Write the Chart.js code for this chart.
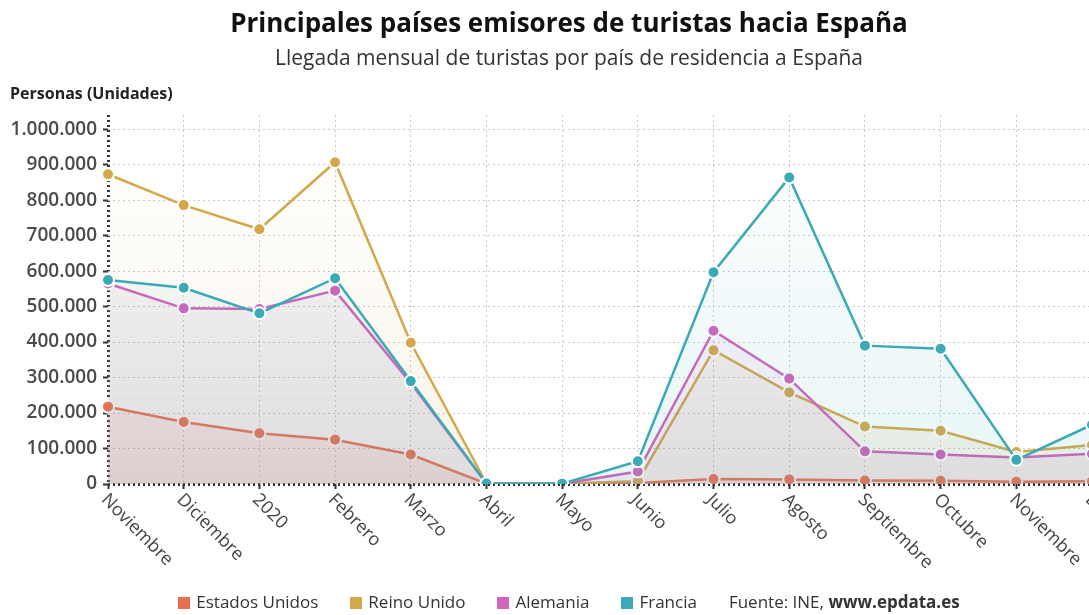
<!DOCTYPE html>
<html>
<head>
<meta charset="utf-8">
<script src="https://cdn.jsdelivr.net/npm/chart.js@4"></script>
<style>
  body { margin: 0; overflow: hidden; background: #fff; font-family: "Open Sans", sans-serif; }
  #wrap { position: relative; width: 1138px; height: 615px; }
  #chartBox { position: absolute; left: 0; top: 0; width: 1138px; height: 615px; }
  .title { position: absolute; left: 0; width: 1138px; text-align: center; top: 4px; font-size: 26px; font-weight: 700; color: #111; }
  .subtitle { position: absolute; left: 0; width: 1138px; text-align: center; top: 43px; font-size: 21px; color: #333; }
  .ytitle { position: absolute; left: 10px; top: 82px; font-size: 16px; font-weight: 700; color: #222; }
  .legend { position: absolute; left: 0; width: 1138px; top: 590px; text-align: center; font-size: 17px; color: #333; white-space: nowrap; }
  .legend span.item { margin: 0 16px; }
  .legend i { display: inline-block; width: 12px; height: 12px; margin-right: 6px; vertical-align: -1px; }
</style>
</head>
<body>
<div id="wrap">
  <div id="chartBox"><canvas id="grafico"></canvas></div>
  <div class="title">Principales países emisores de turistas hacia España</div>
  <div class="subtitle">Llegada mensual de turistas por país de residencia a España</div>
  <div class="ytitle">Personas (Unidades)</div>
  <div class="legend" id="legend"></div>
</div>
<script>
const meses = ['Noviembre', 'Diciembre', '2020', 'Febrero', 'Marzo', 'Abril', 'Mayo', 'Junio', 'Julio', 'Agosto', 'Septiembre', 'Octubre', 'Noviembre', 'Diciembre'];
const estadosUnidos = [218000, 175000, 143000, 125000, 83000, 1000, 500, 3000, 14000, 13000, 10000, 9000, 6000, 8000];
const reinoUnido = [873000, 786000, 718000, 907000, 398000, 1500, 800, 8000, 377000, 258000, 162000, 150000, 90000, 110000];
const alemania = [565000, 495000, 493000, 545000, 285000, 1200, 600, 35000, 432000, 297000, 92000, 83000, 75000, 85000];
const francia = [575000, 553000, 481000, 580000, 290000, 1500, 1000, 64000, 597000, 864000, 390000, 381000, 68000, 167000];
const yTicks = [0, 100000, 200000, 300000, 400000, 500000, 600000, 700000, 800000, 900000, 1000000];

const colores = {
    eeuu: [233, 110, 78],
    ru: [212, 168, 74],
    de: [208, 101, 185],
    fr: [58, 170, 182]
};

const rgb = (c, a) => `rgba(${c[0]},${c[1]},${c[2]},${a})`;
const fmt = v => String(v).replace(/\B(?=(\d{3})+(?!\d))/g, '.');

const gradiente = (c, aTop, aBottom) => (context) => {
    const { ctx, chartArea } = context.chart;
    if (!chartArea) return rgb(c, aBottom);
    const g = ctx.createLinearGradient(0, chartArea.top, 0, chartArea.bottom);
    g.addColorStop(0, rgb(c, aTop));
    g.addColorStop(1, rgb(c, aBottom));
    return g;
};

const serie = (label, data, c, order) => ({
    label: label,
    data: data,
    borderColor: rgb(c, 1),
    backgroundColor: gradiente(c, 0.0, 0.12),
    fill: 'origin',
    borderWidth: 2.5,
    pointRadius: 6,
    pointBorderWidth: 2,
    pointBackgroundColor: rgb(c, 1),
    pointBorderColor: '#fff',
    tension: 0,
    order: order
});

const xLabels = {
    id: 'xLabels',
    afterDraw(chart) {
        const xs = chart.scales.x;
        const ctx = chart.ctx;
        ctx.save();
        ctx.font = '18px "Open Sans"';
        ctx.fillStyle = '#444';
        ctx.textAlign = 'left';
        ctx.textBaseline = 'middle';
        meses.forEach((m, i) => {
            const x = xs.getPixelForValue(i);
            ctx.save();
            ctx.translate(x - 4, chart.chartArea.bottom + 13);
            ctx.rotate(Math.PI / 4);
            ctx.fillText(m, 0, 0);
            ctx.restore();
        });
        ctx.restore();
    }
};

new Chart(document.getElementById('grafico'), {
    type: 'line',
    data: {
        labels: meses,
        datasets: [
            serie('Estados Unidos', estadosUnidos, colores.eeuu, 4),
            serie('Reino Unido', reinoUnido, colores.ru, 3),
            serie('Alemania', alemania, colores.de, 2),
            serie('Francia', francia, colores.fr, 1)
        ]
    },
    options: {
        responsive: true,
        maintainAspectRatio: false,
        animation: false,
        layout: { padding: { top: 115, right: 46, left: 0, bottom: 0 } },
        plugins: {
            legend: { display: false },
            tooltip: { enabled: false }
        },
        scales: {
            x: {
                offset: false,
                ticks: { display: false },
                afterFit: s => { s.height = 131; },
                grid: {
                    color: ctx => ctx.index === 0 ? '#333' : '#c8c8c8',
                    lineWidth: ctx => ctx.index === 0 ? 3 : 1,
                    tickColor: '#333',
                    tickLength: 5,
                    tickWidth: 2
                },
                border: { display: false, dash: [2, 3] }
            },
            y: {
                min: 0,
                max: 1040000,
                afterBuildTicks: s => { s.ticks = yTicks.map(v => ({ value: v })); },
                afterFit: s => { s.width = 108; },
                ticks: {
                    callback: v => fmt(v),
                    font: { family: 'Open Sans', size: 19, weight: '600' },
                    color: '#4a4a4a',
                    padding: 6
                },
                grid: {
                    color: ctx => ctx.tick && ctx.tick.value === 0 ? '#333' : '#c8c8c8',
                    lineWidth: ctx => ctx.tick && ctx.tick.value === 0 ? 3 : 1,
                    tickColor: '#333',
                    tickLength: 5,
                    tickWidth: 2
                },
                border: { display: false, dash: [2, 3] }
            }
        }
    },
    plugins: [xLabels]
});

const legendItems = [['Estados Unidos', colores.eeuu], ['Reino Unido', colores.ru], ['Alemania', colores.de], ['Francia', colores.fr]];
document.getElementById('legend').innerHTML =
    legendItems.map(([n, c]) => `<span class="item"><i style="background:${rgb(c, 1)}"></i>${n}</span>`).join('') +
    '<span class="item">Fuente: INE, <b>www.epdata.es</b></span>';
</script>
</body>
</html>
